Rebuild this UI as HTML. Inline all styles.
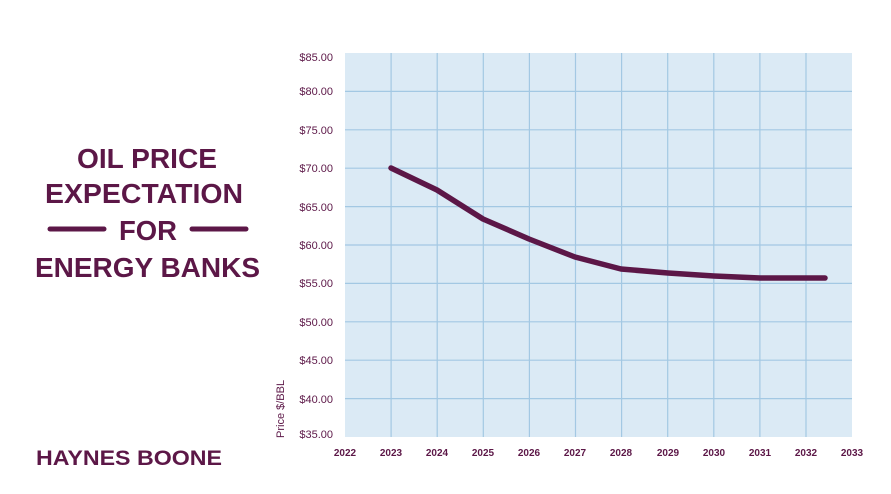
<!DOCTYPE html>
<html><head><style>body{margin:0;background:#fff}svg{display:block}</style></head><body>
<svg width="891" height="494" viewBox="0 0 891 494" xmlns="http://www.w3.org/2000/svg" font-family="Liberation Sans, sans-serif">
<rect x="0" y="0" width="891" height="494" fill="#fff"/>
<g fill="#5c1747" font-weight="bold" font-size="28">
<text x="77" y="168" textLength="140" lengthAdjust="spacingAndGlyphs">OIL PRICE</text>
<text x="45" y="203" textLength="198" lengthAdjust="spacingAndGlyphs">EXPECTATION</text>
<text x="119" y="240" textLength="58" lengthAdjust="spacingAndGlyphs">FOR</text>
<text x="35" y="277" textLength="225" lengthAdjust="spacingAndGlyphs">ENERGY BANKS</text>
<text x="36" y="465" font-size="21" textLength="186" lengthAdjust="spacingAndGlyphs">HAYNES BOONE</text>
</g>
<g stroke="#5c1747" stroke-width="5" stroke-linecap="round">
<line x1="50" y1="229" x2="104" y2="229"/><line x1="192" y1="229" x2="246" y2="229"/>
</g>
<rect x="345" y="53" width="507" height="384" fill="#dbeaf5"/>
<g stroke="#a3c8e3" stroke-width="1.2">
<line x1="345" y1="91.4" x2="852" y2="91.4"/><line x1="345" y1="129.8" x2="852" y2="129.8"/>
<line x1="345" y1="168.2" x2="852" y2="168.2"/><line x1="345" y1="206.6" x2="852" y2="206.6"/>
<line x1="345" y1="245" x2="852" y2="245"/><line x1="345" y1="283.4" x2="852" y2="283.4"/>
<line x1="345" y1="321.8" x2="852" y2="321.8"/><line x1="345" y1="360.2" x2="852" y2="360.2"/>
<line x1="345" y1="398.6" x2="852" y2="398.6"/>
<line x1="391.1" y1="53" x2="391.1" y2="437"/><line x1="437.2" y1="53" x2="437.2" y2="437"/>
<line x1="483.3" y1="53" x2="483.3" y2="437"/><line x1="529.4" y1="53" x2="529.4" y2="437"/>
<line x1="575.5" y1="53" x2="575.5" y2="437"/><line x1="621.6" y1="53" x2="621.6" y2="437"/>
<line x1="667.7" y1="53" x2="667.7" y2="437"/><line x1="713.8" y1="53" x2="713.8" y2="437"/>
<line x1="759.9" y1="53" x2="759.9" y2="437"/><line x1="806" y1="53" x2="806" y2="437"/>
</g>
<g fill="#5c1747" font-size="11" text-anchor="end">
<text x="333" y="61">$85.00</text><text x="333" y="95">$80.00</text><text x="333" y="134">$75.00</text>
<text x="333" y="172">$70.00</text><text x="333" y="211">$65.00</text><text x="333" y="249">$60.00</text>
<text x="333" y="287">$55.00</text><text x="333" y="326">$50.00</text><text x="333" y="364">$45.00</text>
<text x="333" y="403">$40.00</text><text x="333" y="438">$35.00</text>
</g>
<g fill="#5c1747" font-size="10" font-weight="bold" text-anchor="middle">
<text x="345" y="456">2022</text><text x="391" y="456">2023</text><text x="437" y="456">2024</text>
<text x="483" y="456">2025</text><text x="529" y="456">2026</text><text x="575" y="456">2027</text>
<text x="621" y="456">2028</text><text x="668" y="456">2029</text><text x="714" y="456">2030</text>
<text x="760" y="456">2031</text><text x="806" y="456">2032</text><text x="852" y="456">2033</text>
</g>
<text transform="translate(284,438) rotate(-90)" fill="#5c1747" font-size="11">Price $/BBL</text>
<polyline fill="none" stroke="#5c1747" stroke-width="5.5" stroke-linecap="round" stroke-linejoin="round"
points="391,168 437,190 483,219 529,239 575,257 621,269 668,273 714,276 760,278 825,278"/>
</svg>
</body></html>
